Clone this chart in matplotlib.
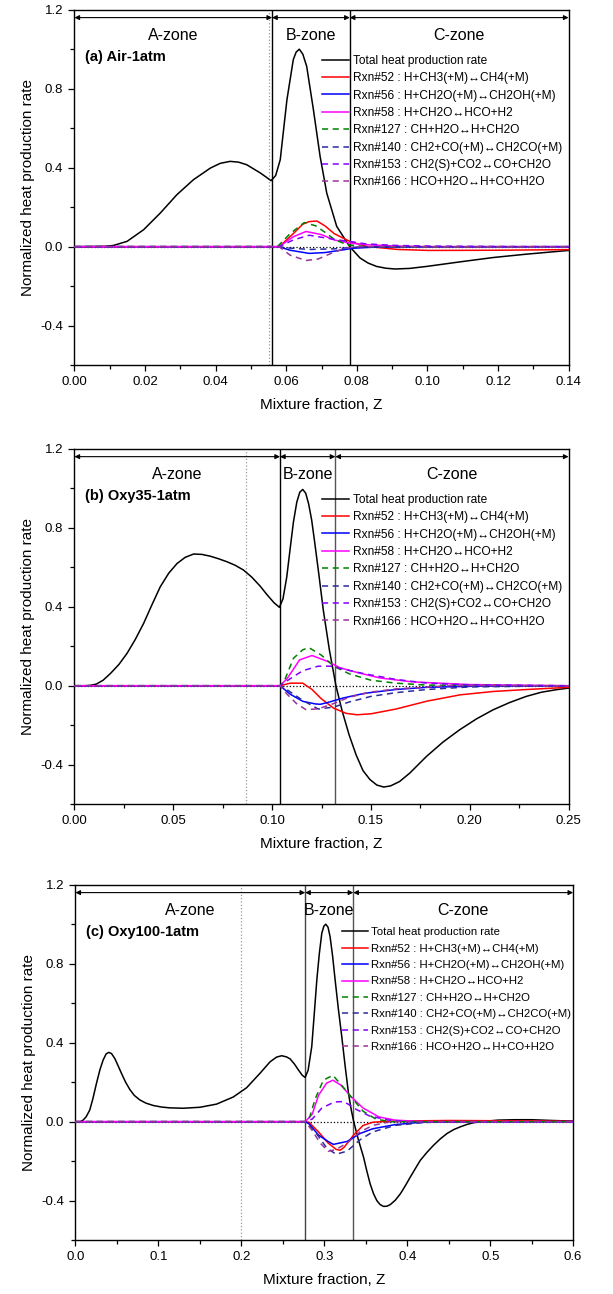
import matplotlib
matplotlib.use("Agg")
import matplotlib.pyplot as plt
from matplotlib.ticker import MultipleLocator, FormatStrFormatter

plt.rcParams['font.family'] = ['Liberation Sans', 'DejaVu Sans']

# ---------------- data ----------------
rxn_labels = ['Total heat production rate',
              'Rxn#52 : H+CH3(+M)\u2194CH4(+M)',
              'Rxn#56 : H+CH2O(+M)\u2194CH2OH(+M)',
              'Rxn#58 : H+CH2O\u2194HCO+H2',
              'Rxn#127 : CH+H2O\u2194H+CH2O',
              'Rxn#140 : CH2+CO(+M)\u2194CH2CO(+M)',
              'Rxn#153 : CH2(S)+CO2\u2194CO+CH2O',
              'Rxn#166 : HCO+H2O\u2194H+CO+H2O']
titles = ['(a) Air-1atm', '(b) Oxy35-1atm', '(c) Oxy100-1atm']
zone_names = ['A-zone', 'B-zone', 'C-zone']

# (a) Air-1atm
a_total_z = [0, 0.0088, 0.011, 0.0149, 0.0196, 0.0243, 0.029, 0.0337, 0.0385, 0.0413, 0.0441, 0.0465,
             0.0488, 0.0526, 0.0545, 0.0557, 0.057, 0.0583, 0.0602, 0.062, 0.0628, 0.0637, 0.0647,
             0.0658, 0.0677, 0.0696, 0.0715, 0.0743, 0.078, 0.0809, 0.0832, 0.0856, 0.0882, 0.0908,
             0.095, 0.0998, 0.1092, 0.1186, 0.128, 0.14]
a_total_y = [0, 0.002, 0.006, 0.027, 0.086, 0.17, 0.263, 0.339, 0.398, 0.422, 0.432, 0.428,
             0.415, 0.374, 0.35, 0.334, 0.36, 0.44, 0.744, 0.947, 0.985, 1.0, 0.975,
             0.913, 0.694, 0.457, 0.27, 0.103, 0.0, -0.057, -0.083, -0.10, -0.109, -0.113,
             -0.11, -0.10, -0.077, -0.055, -0.038, -0.019]
a_r52_z = [0, 0.058, 0.062, 0.0647, 0.0665, 0.0687, 0.071, 0.0736, 0.0781, 0.0826, 0.0915, 0.1004, 0.12, 0.14]
a_r52_y = [0, 0, 0.066, 0.114, 0.127, 0.13, 0.105, 0.066, 0.026, 0.002, -0.014, -0.019, -0.018, -0.015]
a_r56_z = [0, 0.058, 0.0611, 0.0665, 0.0709, 0.0754, 0.079, 0.085, 0.14]
a_r56_y = [0, 0, -0.018, -0.034, -0.03, -0.018, -0.008, -0.002, 0]
a_r58_z = [0, 0.058, 0.062, 0.0656, 0.070, 0.0736, 0.0781, 0.0826, 0.0915, 0.10, 0.14]
a_r58_y = [0, 0, 0.05, 0.077, 0.061, 0.034, 0.018, 0.01, 0.003, 0, 0]
a_r127_z = [0, 0.0575, 0.0611, 0.0651, 0.0683, 0.0709, 0.0736, 0.0772, 0.0826, 0.14]
a_r127_y = [0, 0, 0.066, 0.122, 0.106, 0.074, 0.037, 0.01, 0, 0]
a_r140_z = [0, 0.058, 0.0602, 0.0665, 0.0736, 0.079, 0.085, 0.14]
a_r140_y = [0, 0, -0.006, -0.014, -0.011, -0.003, 0, 0]
a_r153_z = [0, 0.058, 0.062, 0.0665, 0.0736, 0.0781, 0.0826, 0.0915, 0.1004, 0.12, 0.14]
a_r153_y = [0, 0, 0.034, 0.058, 0.037, 0.026, 0.014, 0.006, 0.003, 0.001, 0]
a_r166_z = [0, 0.058, 0.0611, 0.0656, 0.0691, 0.0736, 0.0772, 0.08, 0.14]
a_r166_y = [0, 0, -0.043, -0.07, -0.062, -0.027, -0.006, 0, 0]

# (b) Oxy35-1atm
b_total_z = [0, 0.006, 0.0081, 0.011, 0.0145, 0.0182, 0.0225, 0.0266, 0.0308, 0.035, 0.0392, 0.0434,
             0.0477, 0.0519, 0.056, 0.0603, 0.0645, 0.0687, 0.0729, 0.0771, 0.0813, 0.0855, 0.0897,
             0.0939, 0.0975, 0.101, 0.1037, 0.1055, 0.1074, 0.1092, 0.1108, 0.1125, 0.114, 0.1155,
             0.117, 0.1185, 0.12, 0.1215, 0.1237, 0.1259, 0.129, 0.1323, 0.1355, 0.139, 0.1425,
             0.146, 0.1495, 0.153, 0.1565, 0.16, 0.1645, 0.1697, 0.1739, 0.1781, 0.1865, 0.1949,
             0.2034, 0.2118, 0.2202, 0.2286, 0.2362, 0.2438, 0.25]
b_total_y = [0, 0, 0.002, 0.008, 0.028, 0.062, 0.108, 0.164, 0.235, 0.316, 0.41, 0.501,
             0.57, 0.619, 0.65, 0.667, 0.665, 0.656, 0.643, 0.628, 0.61, 0.586, 0.55,
             0.505, 0.46, 0.42, 0.397, 0.44, 0.55, 0.7, 0.83, 0.93, 0.98, 0.994,
             0.975, 0.92, 0.84, 0.73, 0.56, 0.383, 0.18, 0.0, -0.13, -0.25, -0.35,
             -0.43, -0.475, -0.503, -0.513, -0.507, -0.485, -0.442, -0.40, -0.358, -0.285, -0.223,
             -0.168, -0.122, -0.085, -0.054, -0.033, -0.02, -0.012]
b_r52_z = [0, 0.104, 0.1092, 0.1155, 0.1202, 0.1249, 0.1312, 0.1375, 0.143, 0.1501, 0.1627, 0.1784,
           0.1952, 0.212, 0.2272, 0.25]
b_r52_y = [0, 0, 0.013, 0.013, -0.019, -0.066, -0.114, -0.14, -0.147, -0.142, -0.118, -0.078,
           -0.046, -0.029, -0.02, -0.008]
b_r56_z = [0, 0.104, 0.1092, 0.1155, 0.1218, 0.1244, 0.1281, 0.136, 0.147, 0.1627, 0.1784, 0.2, 0.25]
b_r56_y = [0, 0, -0.043, -0.079, -0.092, -0.094, -0.085, -0.062, -0.038, -0.019, -0.008, -0.003, 0]
b_r58_z = [0, 0.104, 0.1076, 0.1139, 0.1202, 0.1281, 0.1344, 0.1438, 0.1548, 0.1705, 0.1784, 0.2, 0.25]
b_r58_y = [0, 0, 0.036, 0.131, 0.153, 0.123, 0.091, 0.065, 0.039, 0.02, 0.016, 0.006, 0]
b_r127_z = [0, 0.104, 0.106, 0.1108, 0.1155, 0.1186, 0.1249, 0.1312, 0.1391, 0.15, 0.1627, 0.1784, 0.25]
b_r127_y = [0, 0, 0.02, 0.139, 0.182, 0.193, 0.155, 0.099, 0.06, 0.028, 0.013, 0.003, 0]
b_r140_z = [0, 0.104, 0.106, 0.1155, 0.1233, 0.1312, 0.1391, 0.15, 0.1627, 0.1784, 0.2, 0.25]
b_r140_y = [0, 0, -0.01, -0.074, -0.118, -0.108, -0.082, -0.054, -0.035, -0.019, -0.006, 0]
b_r153_z = [0, 0.104, 0.1092, 0.1155, 0.1233, 0.1296, 0.136, 0.147, 0.1627, 0.1784, 0.2, 0.25]
b_r153_y = [0, 0, 0.036, 0.076, 0.099, 0.099, 0.084, 0.06, 0.032, 0.013, 0.004, 0]
b_r166_z = [0, 0.104, 0.1076, 0.1123, 0.1171, 0.1233, 0.1312, 0.1391, 0.15, 0.1627, 0.19, 0.25]
b_r166_y = [0, 0, -0.043, -0.09, -0.121, -0.117, -0.09, -0.058, -0.032, -0.016, 0, 0]

# (c) Oxy100-1atm
c_total_z = [0, 0.006, 0.0093, 0.013, 0.0173, 0.021, 0.0254, 0.0295, 0.0334, 0.037, 0.0402, 0.0435,
             0.0475, 0.0515, 0.0555, 0.0605, 0.0656, 0.071, 0.0777, 0.085, 0.0938, 0.104, 0.1139,
             0.13, 0.1501, 0.1702, 0.1903, 0.2064, 0.2225, 0.2346, 0.2425, 0.2487, 0.2545, 0.2588,
             0.264, 0.2688, 0.2735, 0.2769, 0.2805, 0.2849, 0.288, 0.291, 0.294, 0.297, 0.2995,
             0.3018, 0.3045, 0.307, 0.31, 0.3131, 0.317, 0.3211, 0.3252, 0.3292, 0.3325, 0.3355,
             0.341, 0.3473, 0.3513, 0.3553, 0.3594, 0.3634, 0.3674, 0.3714, 0.3755, 0.3795, 0.3855,
             0.3916, 0.3976, 0.4036, 0.4097, 0.4157, 0.4238, 0.4318, 0.4399, 0.4479, 0.456, 0.464,
             0.472, 0.4801, 0.4962, 0.51, 0.53, 0.55, 0.575, 0.6]
c_total_y = [0, 0, 0.008, 0.025, 0.059, 0.115, 0.194, 0.262, 0.312, 0.343, 0.351, 0.345,
             0.32, 0.283, 0.245, 0.2, 0.163, 0.133, 0.11, 0.094, 0.082, 0.074, 0.07,
             0.068, 0.073, 0.089, 0.125, 0.172, 0.245, 0.303, 0.327, 0.334, 0.328, 0.318,
             0.292, 0.262, 0.235, 0.224, 0.26, 0.38, 0.55, 0.717, 0.85, 0.954, 0.99,
             1.0, 0.985, 0.937, 0.84, 0.717, 0.57, 0.43, 0.28, 0.143, 0.06, 0.0,
             -0.09, -0.179, -0.25, -0.315, -0.365, -0.4, -0.42, -0.429, -0.428, -0.42, -0.398,
             -0.366, -0.325, -0.281, -0.238, -0.196, -0.155, -0.119, -0.087, -0.06, -0.04, -0.026,
             -0.014, -0.005, 0.003, 0.008, 0.01, 0.01, 0.006, 0.003]
c_r52_z = [0, 0.277, 0.2816, 0.2931, 0.3046, 0.3142, 0.319, 0.3238, 0.3353, 0.3468, 0.3583, 0.38, 0.45, 0.55, 0.6]
c_r52_y = [0, 0, -0.003, -0.052, -0.108, -0.14, -0.145, -0.13, -0.068, -0.019, -0.003, 0.003, 0.006, 0.004, 0.002]
c_r56_z = [0, 0.277, 0.2816, 0.2931, 0.3046, 0.311, 0.3276, 0.343, 0.3583, 0.3852, 0.4159, 0.6]
c_r56_y = [0, 0, -0.011, -0.068, -0.1, -0.115, -0.1, -0.06, -0.036, -0.015, -0.003, 0]
c_r58_z = [0, 0.277, 0.2854, 0.2931, 0.3027, 0.3104, 0.32, 0.3315, 0.3468, 0.366, 0.3852, 0.42, 0.6]
c_r58_y = [0, 0, 0.037, 0.134, 0.195, 0.21, 0.185, 0.13, 0.069, 0.024, 0.008, 0, 0]
c_r127_z = [0, 0.277, 0.2816, 0.2893, 0.2989, 0.3104, 0.3238, 0.3353, 0.3468, 0.3622, 0.38, 0.6]
c_r127_y = [0, 0, 0.013, 0.118, 0.21, 0.235, 0.17, 0.11, 0.053, 0.013, 0, 0]
c_r140_z = [0, 0.277, 0.2893, 0.3027, 0.3142, 0.3276, 0.343, 0.3583, 0.3852, 0.4159, 0.44, 0.6]
c_r140_y = [0, 0, -0.052, -0.132, -0.165, -0.149, -0.092, -0.052, -0.019, -0.006, 0, 0]
c_r153_z = [0, 0.277, 0.2854, 0.297, 0.3123, 0.3238, 0.3391, 0.3545, 0.3775, 0.40, 0.6]
c_r153_y = [0, 0, 0.013, 0.069, 0.1, 0.102, 0.061, 0.029, 0.008, 0, 0]
c_r166_z = [0, 0.277, 0.2854, 0.295, 0.3046, 0.3142, 0.3276, 0.343, 0.3583, 0.38, 0.6]
c_r166_y = [0, 0, -0.044, -0.108, -0.15, -0.141, -0.108, -0.052, -0.019, 0, 0]

# zone boundaries [start, A|B, B|C, end] and dotted reference line
a_zones = [0, 0.056, 0.078, 0.14]
b_zones = [0, 0.104, 0.132, 0.25]
c_zones = [0, 0.277, 0.335, 0.6]
dotted_z = [0.055, 0.087, 0.2]

colors = ['black', '#ff0000', '#0000ff', '#ff00ff', '#008000', '#2b2b99', '#8000ff', '#993399']
styles = ['-', '-', '-', '-', (0, (4, 3)), (0, (4, 3)), (0, (4, 3)), (0, (4, 3))]

panels = [
    dict(series=[(a_total_z, a_total_y), (a_r52_z, a_r52_y), (a_r56_z, a_r56_y), (a_r58_z, a_r58_y),
                 (a_r127_z, a_r127_y), (a_r140_z, a_r140_y), (a_r153_z, a_r153_y), (a_r166_z, a_r166_y)],
         zones=a_zones, major=0.02, fmt='%.2f'),
    dict(series=[(b_total_z, b_total_y), (b_r52_z, b_r52_y), (b_r56_z, b_r56_y), (b_r58_z, b_r58_y),
                 (b_r127_z, b_r127_y), (b_r140_z, b_r140_y), (b_r153_z, b_r153_y), (b_r166_z, b_r166_y)],
         zones=b_zones, major=0.05, fmt='%.2f'),
    dict(series=[(c_total_z, c_total_y), (c_r52_z, c_r52_y), (c_r56_z, c_r56_y), (c_r58_z, c_r58_y),
                 (c_r127_z, c_r127_y), (c_r140_z, c_r140_y), (c_r153_z, c_r153_y), (c_r166_z, c_r166_y)],
         zones=c_zones, major=0.1, fmt='%.1f'),
]
sep_colors = [('k', 'k'), ('k', '#555555'), ('#444444', '#555555')]

# axes rectangles in figure fraction
rects = [[0.1215, 0.7178, 0.806, 0.2747],
         [0.1215, 0.3785, 0.806, 0.2747],
         [0.1230, 0.0416, 0.8120, 0.2747]]
leg_anchor = [(0.500, 0.873), (0.500, 0.873), (0.535, 0.880)]
leg_spacing = [0.45, 0.45, 0.56]
leg_size = [8.6, 8.6, 8.2]

fig = plt.figure(figsize=(6.13, 12.94), dpi=100)

for i, p in enumerate(panels):
    ax = fig.add_axes(rects[i])
    zones = p['zones']
    ax.axhline(0, color='k', ls=':', lw=0.9, zorder=1)
    ax.axvline(dotted_z[i], color='#999999', ls=':', lw=0.9, zorder=1)
    ax.axvline(zones[1], color=sep_colors[i][0], lw=1.0, zorder=1)
    ax.axvline(zones[2], color=sep_colors[i][1], lw=1.0, zorder=1)

    for k, (z, y) in enumerate(p['series']):
        ax.plot(z, y, color=colors[k], ls=styles[k], lw=1.1, label=rxn_labels[k], zorder=3 + k * 0.1)

    for j in range(3):
        ax.annotate('', xy=(zones[j], 1.16), xytext=(zones[j + 1], 1.16),
                    arrowprops=dict(arrowstyle='<|-|>', color='k', lw=0.8,
                                    mutation_scale=7, shrinkA=0, shrinkB=0))
        ax.text((zones[j] + zones[j + 1]) / 2, 1.07, zone_names[j], ha='center', va='center',
                fontsize=11.5)

    ax.text(0.022, 0.96, titles[i], transform=ax.get_yaxis_transform(), fontsize=10.5,
            fontweight='bold', va='center', ha='left')

    ax.legend(loc='upper left', bbox_to_anchor=leg_anchor[i], frameon=False, fontsize=leg_size[i],
              handlelength=2.3, handletextpad=0.3, labelspacing=leg_spacing[i],
              borderpad=0, borderaxespad=0)

    ax.set_xlim(zones[0], zones[3])
    ax.set_ylim(-0.6, 1.2)
    ax.xaxis.set_major_locator(MultipleLocator(p['major']))
    ax.xaxis.set_minor_locator(MultipleLocator(p['major'] / 2))
    ax.xaxis.set_major_formatter(FormatStrFormatter(p['fmt']))
    ax.yaxis.set_major_locator(MultipleLocator(0.4))
    ax.yaxis.set_minor_locator(MultipleLocator(0.2))
    ax.yaxis.set_major_formatter(FormatStrFormatter('%.1f'))
    ax.tick_params(which='both', direction='out', top=False, right=False, labelsize=9.5, width=0.9)
    ax.tick_params(which='major', length=4.5)
    ax.tick_params(which='minor', length=3)
    for s in ax.spines.values():
        s.set_linewidth(1.0)
    ax.set_xlabel('Mixture fraction, Z', fontsize=11, labelpad=7)
    ax.set_ylabel('Normalized heat production rate', fontsize=11, labelpad=4)

fig.savefig('out.png', dpi=100)
